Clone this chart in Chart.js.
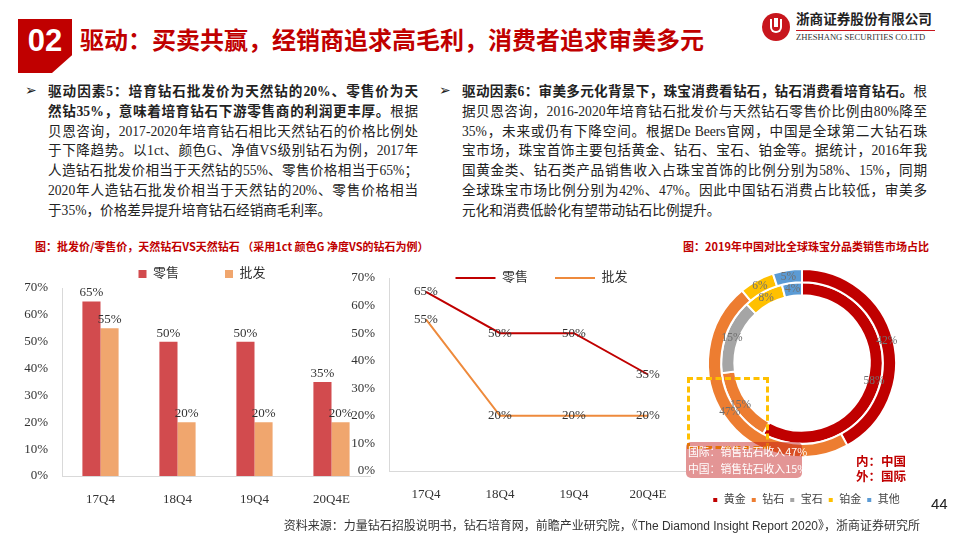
<!DOCTYPE html>
<html>
<head>
<meta charset="utf-8">
<script src="https://cdn.jsdelivr.net/npm/chart.js@4"></script>
<style>
  html, body { margin: 0; padding: 0; background: #fff; }
  #page { position: relative; width: 960px; height: 540px; overflow: hidden; font-family: "Liberation Serif", "Noto Sans CJK SC", serif; color: #222; }
  .abs { position: absolute; }
  #num { left: 18px; top: 19px; width: 54px; height: 54px; background: #C00000;
    clip-path: polygon(0 0, 100% 0, 100% 67%, 63% 100%, 0 100%); }
  #num span { position: absolute; left: 0; top: 4px; width: 54px; text-align: center; color: #fff;
    font: bold 31px "Liberation Sans", Arial, sans-serif; }
  #title { left: 80px; top: 22px; font: bold 24px "Noto Sans CJK SC", sans-serif; color: #C00000; line-height: 34px; }
  #logo { left: 762px; top: 13px; width: 28px; height: 28px; border-radius: 50%; background: #C8161D; }
  #logo i { position: absolute; left: 8px; top: 6px; width: 12px; height: 14px; border: 2px solid #fff; border-top: none; border-radius: 0 0 7px 7px; box-sizing: border-box; }
  #logo b { position: absolute; left: 12px; top: 5px; width: 4px; height: 9px; background: #fff; }
  #cn { left: 796px; top: 8px; font: bold 13.6px "Noto Sans CJK SC", sans-serif; color: #222; line-height: 20px; }
  #rl { left: 796px; top: 30px; width: 139px; height: 1px; background: #C8161D; }
  #en { left: 796px; top: 32px; font: 8.6px "Liberation Serif", serif; color: #333; line-height: 11px; }
  .bul { font: bold 14px "DejaVu Sans", sans-serif; color: #222; }
  .blk { font-size: 13.6px; line-height: 19.8px; color: #222; }
  .blk div { text-align: justify; text-align-last: justify; white-space: nowrap; }
  .blk div.last { text-align-last: left; }
  .blk b { font-weight: bold; }
  .ctitle { font: bold 11px "Noto Sans CJK SC", sans-serif; color: #C00000; white-space: nowrap; }
  canvas { position: absolute; }
  #dash { left: 687px; top: 377px; width: 76px; height: 66px; border: 3px dashed #FFC000; }
  #note { left: 686px; top: 442px; width: 116px; height: 36px; background: rgba(192, 20, 20, 0.45); border-radius: 5px;
    color: #fff; font: 10.8px "Noto Sans CJK SC", sans-serif; line-height: 17px; padding: 1px 0 0 2px; box-sizing: border-box; white-space: nowrap; }
  #inout { left: 856px; top: 453px; font: bold 12.5px "Noto Sans CJK SC", sans-serif; color: #C00000; line-height: 15px; }
  #src { right: 40px; top: 516px; font: 12px "Noto Sans CJK SC", sans-serif; color: #333; white-space: nowrap; }
  #src span { font-family: "Liberation Sans", Arial, sans-serif; }
  #pg { left: 931px; top: 495px; font: 15px "Liberation Sans", Arial, sans-serif; color: #222; }
</style>
</head>
<body>
<div id="page">
  <div id="num" class="abs"><span>02</span></div>
  <div id="title" class="abs">驱动：买卖共赢，经销商追求高毛利，消费者追求审美多元</div>
  <div id="logo" class="abs"><i></i><b></b></div>
  <div id="cn" class="abs">浙商证券股份有限公司</div>
  <div id="rl" class="abs"></div>
  <div id="en" class="abs">ZHESHANG SECURITIES CO.LTD</div>

  <div class="abs bul" style="left:25px;top:82px">➢</div>
  <div class="abs blk" style="left:48px;top:82px;width:370px">
    <div><b>驱动因素5：培育钻石批发价为天然钻的20%、零售价为天</b></div>
    <div><b>然钻35%，意味着培育钻石下游零售商的利润更丰厚。</b>根据</div>
    <div>贝恩咨询，2017-2020年培育钻石相比天然钻石的价格比例处</div>
    <div>于下降趋势。以1ct、颜色G、净值VS级别钻石为例，2017年</div>
    <div>人造钻石批发价相当于天然钻的55%、零售价格相当于65%；</div>
    <div>2020年人造钻石批发价相当于天然钻的20%、零售价格相当</div>
    <div class="last">于35%，价格差异提升培育钻石经销商毛利率。</div>
  </div>

  <div class="abs bul" style="left:439px;top:82px">➢</div>
  <div class="abs blk" style="left:462px;top:82px;width:465px">
    <div><b>驱动因素6：审美多元化背景下，珠宝消费看钻石，钻石消费看培育钻石。</b>根</div>
    <div>据贝恩咨询，2016-2020年培育钻石批发价与天然钻石零售价比例由80%降至</div>
    <div>35%，未来或仍有下降空间。根据De Beers官网，中国是全球第二大钻石珠</div>
    <div>宝市场，珠宝首饰主要包括黄金、钻石、宝石、铂金等。据统计，2016年我</div>
    <div>国黄金类、钻石类产品销售收入占珠宝首饰的比例分别为58%、15%，同期</div>
    <div>全球珠宝市场比例分别为42%、47%。因此中国钻石消费占比较低，审美多</div>
    <div class="last">元化和消费低龄化有望带动钻石比例提升。</div>
  </div>

  <div class="abs ctitle" style="left:35px;top:238px">图：批发价/零售价，天然钻石VS天然钻石 （采用1ct 颜色G 净度VS的钻石为例）</div>
  <div class="abs ctitle" style="left:683px;top:238px">图：2019年中国对比全球珠宝分品类销售市场占比</div>

  <canvas id="bar" style="left:20px;top:256px" width="364" height="252"></canvas>
  <canvas id="line" style="left:350px;top:246px" width="383" height="257"></canvas>
  <canvas id="pie" style="left:682px;top:247px" width="240" height="281"></canvas>

  <div id="dash" class="abs"></div>
  <div id="note" class="abs">国际：销售钻石收入47%<br>中国：销售钻石收入15%</div>
  <div id="inout" class="abs">内：中国<br>外：国际</div>

  <div id="pg" class="abs">44</div>
  <div id="src" class="abs">资料来源：力量钻石招股说明书，钻石培育网，前瞻产业研究院，《<span>The Diamond Insight Report 2020</span>》，浙商证券研究所</div>
</div>
<script>
// --- data ------------------------------------------------------------------
const quarters = ['17Q4', '18Q4', '19Q4', '20Q4E'];
const retail = [65, 50, 50, 35];      // 零售
const wholesale = [55, 20, 20, 20];   // 批发
const pctMax = 70, pctStep = 10;

const categories = ['黄金', '钻石', '宝石', '铂金', '其他'];
const globalShare = [42, 47, 0, 6, 5];   // 外：国际
const chinaShare = [58, 15, 15, 8, 4];   // 内：中国
const catColors = ['#C00000', '#ED7D31', '#A5A5A5', '#FFC000', '#5B9BD5'];

const SERIF = '"Liberation Serif", "Noto Sans CJK SC", serif';

// value labels drawn from the laid-out elements
const valueLabels = {
  id: 'valueLabels',
  afterDatasetsDraw(chart, args, opts) {
    const ctx = chart.ctx;
    ctx.save();
    ctx.font = opts.font || `13px ${SERIF}`;
    ctx.fillStyle = opts.color || '#333';
    ctx.textAlign = 'center';
    chart.data.datasets.forEach((ds, i) => {
      chart.getDatasetMeta(i).data.forEach((el, j) => {
        const v = ds.data[j];
        if (!v) return;
        let x = el.x, y = el.y;
        if (opts.mode === 'bar') { ctx.textBaseline = 'bottom'; y -= 2; }
        else if (opts.mode === 'arc') { ({ x, y } = el.tooltipPosition()); ctx.textBaseline = 'middle'; }
        else ctx.textBaseline = 'middle';
        ctx.fillText(v + '%', x, y);
      });
    });
    ctx.restore();
  },
};

// reserve a fixed legend height, then draw the legend row at a given y / x shift
const legendFix = {
  id: 'legendFix',
  beforeLayout(chart, args, opts) {
    const lg = chart.legend;
    if (!lg || lg._fixed || opts.height == null) return;
    const fit = lg.fit;
    lg.fit = function () { fit.call(this); this.height = opts.height; };
    lg._fixed = true;
  },
  beforeDraw(chart, args, opts) {
    const lg = chart.legend;
    if (!lg || opts.center == null) return;
    lg.top = opts.center - opts.padding - opts.size / 2;
    lg.bottom = opts.center + opts.size;   // legend clips to its own box
    if (opts.dx && !lg._shifted) { lg.left += opts.dx; lg.right += opts.dx; lg._shifted = true; }
  },
};

const yAxis = (w) => ({
  min: 0, max: pctMax,
  ticks: { stepSize: pctStep, color: '#333', font: { family: SERIF, size: 13 }, padding: 6, callback: (v) => v + '%' },
  grid: { display: false },
  border: { color: '#D9D9D9' },
  afterFit: (s) => { s.width = w; },
});
const xAxis = (h) => ({
  ticks: { color: '#333', font: { family: SERIF, size: 13 }, padding: 8 },
  grid: { display: false },
  border: { color: '#D9D9D9' },
  afterFit: (s) => { s.height = h; },
});

new Chart(document.getElementById('bar'), {
  type: 'bar',
  data: {
    labels: quarters,
    datasets: [
      { label: '零售', data: retail, backgroundColor: '#D24B4E' },
      { label: '批发', data: wholesale, backgroundColor: '#F0A66E' },
    ],
  },
  options: {
    responsive: false, animation: false,
    layout: { padding: { top: 0, right: 14 } },
    datasets: { bar: { categoryPercentage: 0.47, barPercentage: 1 } },
    plugins: {
      legend: { labels: { color: '#333', font: { family: SERIF, size: 13 }, boxWidth: 8, boxHeight: 8, padding: 46 } },
      legendFix: { height: 32, center: 18, padding: 46, size: 13, dx: 7 },
      tooltip: { enabled: false },
      valueLabels: { mode: 'bar' },
    },
    scales: { x: xAxis(32), y: yAxis(42) },
  },
  plugins: [valueLabels, legendFix],
});

new Chart(document.getElementById('line'), {
  type: 'line',
  data: {
    labels: quarters,
    datasets: [
      { label: '零售', data: retail, borderColor: '#C00000', backgroundColor: '#C00000', borderWidth: 2, pointRadius: 0, tension: 0 },
      { label: '批发', data: wholesale, borderColor: '#EE8A3C', backgroundColor: '#EE8A3C', borderWidth: 2, pointRadius: 0, tension: 0 },
    ],
  },
  options: {
    responsive: false, animation: false,
    layout: { padding: { right: 48 } },
    plugins: {
      legend: { labels: { color: '#333', font: { family: SERIF, size: 13 }, usePointStyle: true, pointStyle: 'line', pointStyleWidth: 40, padding: 27 } },
      legendFix: { height: 32, center: 32, padding: 27, size: 13, dx: 24 },
      tooltip: { enabled: false },
      valueLabels: { mode: 'point' },
    },
    scales: { x: { ...xAxis(32), offset: true }, y: yAxis(39) },
  },
  plugins: [valueLabels, legendFix],
});

new Chart(document.getElementById('pie'), {
  type: 'doughnut',
  data: {
    labels: categories,
    datasets: [
      { label: '国际', data: globalShare, backgroundColor: catColors, borderColor: '#fff', borderWidth: 2 },
      { label: '中国', data: chinaShare, backgroundColor: catColors, borderColor: '#fff', borderWidth: 2 },
    ],
  },
  options: {
    responsive: false, animation: false,
    radius: 94, cutout: '72%',
    layout: { padding: 0 },
    plugins: {
      legend: { position: 'bottom', labels: { color: '#444', font: { family: SERIF, size: 11 }, boxWidth: 6, boxHeight: 6, padding: 5 } },
      legendFix: { height: 49, center: 253, padding: 5, size: 11, dx: 4 },
      tooltip: { enabled: false },
      valueLabels: { mode: 'arc', color: '#707070', font: `11.5px ${SERIF}` },
    },
  },
  plugins: [valueLabels, legendFix],
});
</script>
</body>
</html>
